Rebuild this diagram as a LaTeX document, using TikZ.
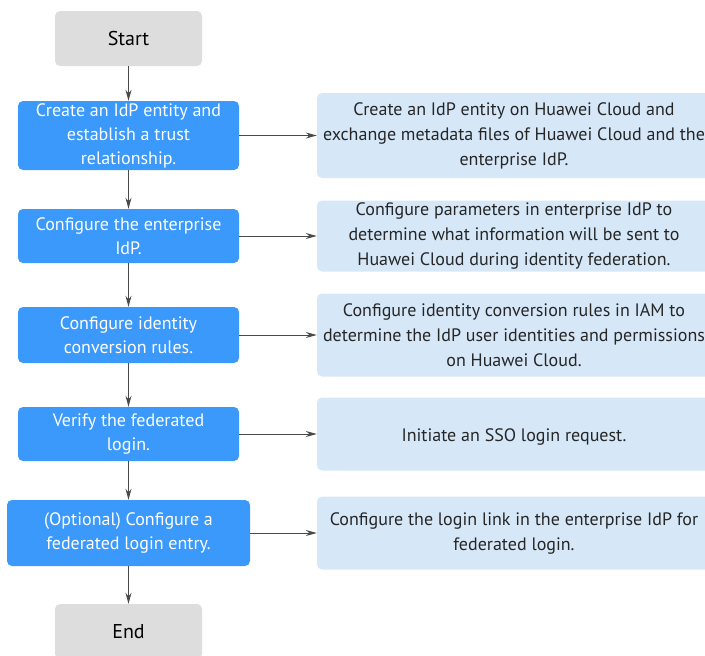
\documentclass[tikz,border=0pt]{standalone}
\usepackage{fontspec}
\setmainfont{PT Sans}
\usepackage{tikz}
\usetikzlibrary{arrows.meta}

\definecolor{stepblue}{HTML}{3A99FB}
\definecolor{noteblue}{HTML}{D6E8F8}
\definecolor{termgray}{HTML}{DDDDDD}
\definecolor{linegray}{HTML}{4A4A4A}

\begin{document}
\begin{tikzpicture}[x=1pt, y=-1pt, >={Stealth[length=11pt,width=6pt]},
    font=\fontsize{18}{24}\selectfont,
    termbox/.style={fill=termgray, rounded corners=5pt, minimum width=147pt,
      minimum height=55pt, inner sep=0pt, text=black,
      font=\fontsize{20}{24}\selectfont},
    stepbox/.style={fill=stepblue, rounded corners=5pt, minimum width=221pt,
      inner sep=0pt, align=center, text=white,
      execute at begin node={\rule{0pt}{18pt}}},
    notebox/.style={fill=noteblue, rounded corners=5pt, minimum width=394pt,
      inner sep=0pt, align=center, text=black!85,
      font=\fontsize{18}{25}\selectfont,
      execute at begin node={\rule{0pt}{18pt}}},
    flow/.style={->, linegray, line width=1pt}]
  \useasboundingbox (0,0) rectangle (705,656);

  % start / end
  \node[termbox] (start) at (128.5,38.5) {Start};
  \node[termbox] (end) at (128.5,631.5) {End};

  % steps on the left
  \node[stepbox, minimum height=69pt] (s1) at (128.5,135.5)
    {Create an IdP entity and\\establish a trust\\relationship.};
  \node[stepbox, minimum height=54pt] (s2) at (128.5,236)
    {Configure the enterprise\\IdP.};
  \node[stepbox, minimum height=56pt] (s3) at (128.5,335)
    {Configure identity\\conversion rules.};
  \node[stepbox, minimum height=54pt] (s4) at (128.5,434)
    {Verify the federated\\login.};
  \node[stepbox, minimum height=66pt, minimum width=243pt] (s5) at (128.5,533)
    {(Optional) Configure a\\federated login entry.};

  % notes on the right
  \node[notebox, minimum height=85pt] (n1) at (514,135.5)
    {Create an IdP entity on Huawei Cloud and\\exchange metadata files of Huawei Cloud and the\\enterprise IdP.};
  \node[notebox, minimum height=71pt] (n2) at (514,236)
    {Configure parameters in enterprise IdP to\\determine what information will be sent to\\Huawei Cloud during identity federation.};
  \node[notebox, minimum height=83pt] (n3) at (514,335)
    {Configure identity conversion rules in IAM to\\determine the IdP user identities and permissions\\on Huawei Cloud.};
  \node[notebox, minimum height=73pt] (n4) at (514,434)
    {Initiate an SSO login request.};
  \node[notebox, minimum height=73pt] (n5) at (514,533)
    {Configure the login link in the enterprise IdP for\\federated login.};

  % connectors
  \draw[flow] (start) -- (s1);
  \draw[flow] (s1) -- (s2);
  \draw[flow] (s2) -- (s3);
  \draw[flow] (s3) -- (s4);
  \draw[flow] (s4) -- (s5);
  \draw[flow] (s5) -- (end);
  \foreach \i in {1,...,5}
    \draw[flow] (s\i) -- (n\i);
\end{tikzpicture}
\end{document}
